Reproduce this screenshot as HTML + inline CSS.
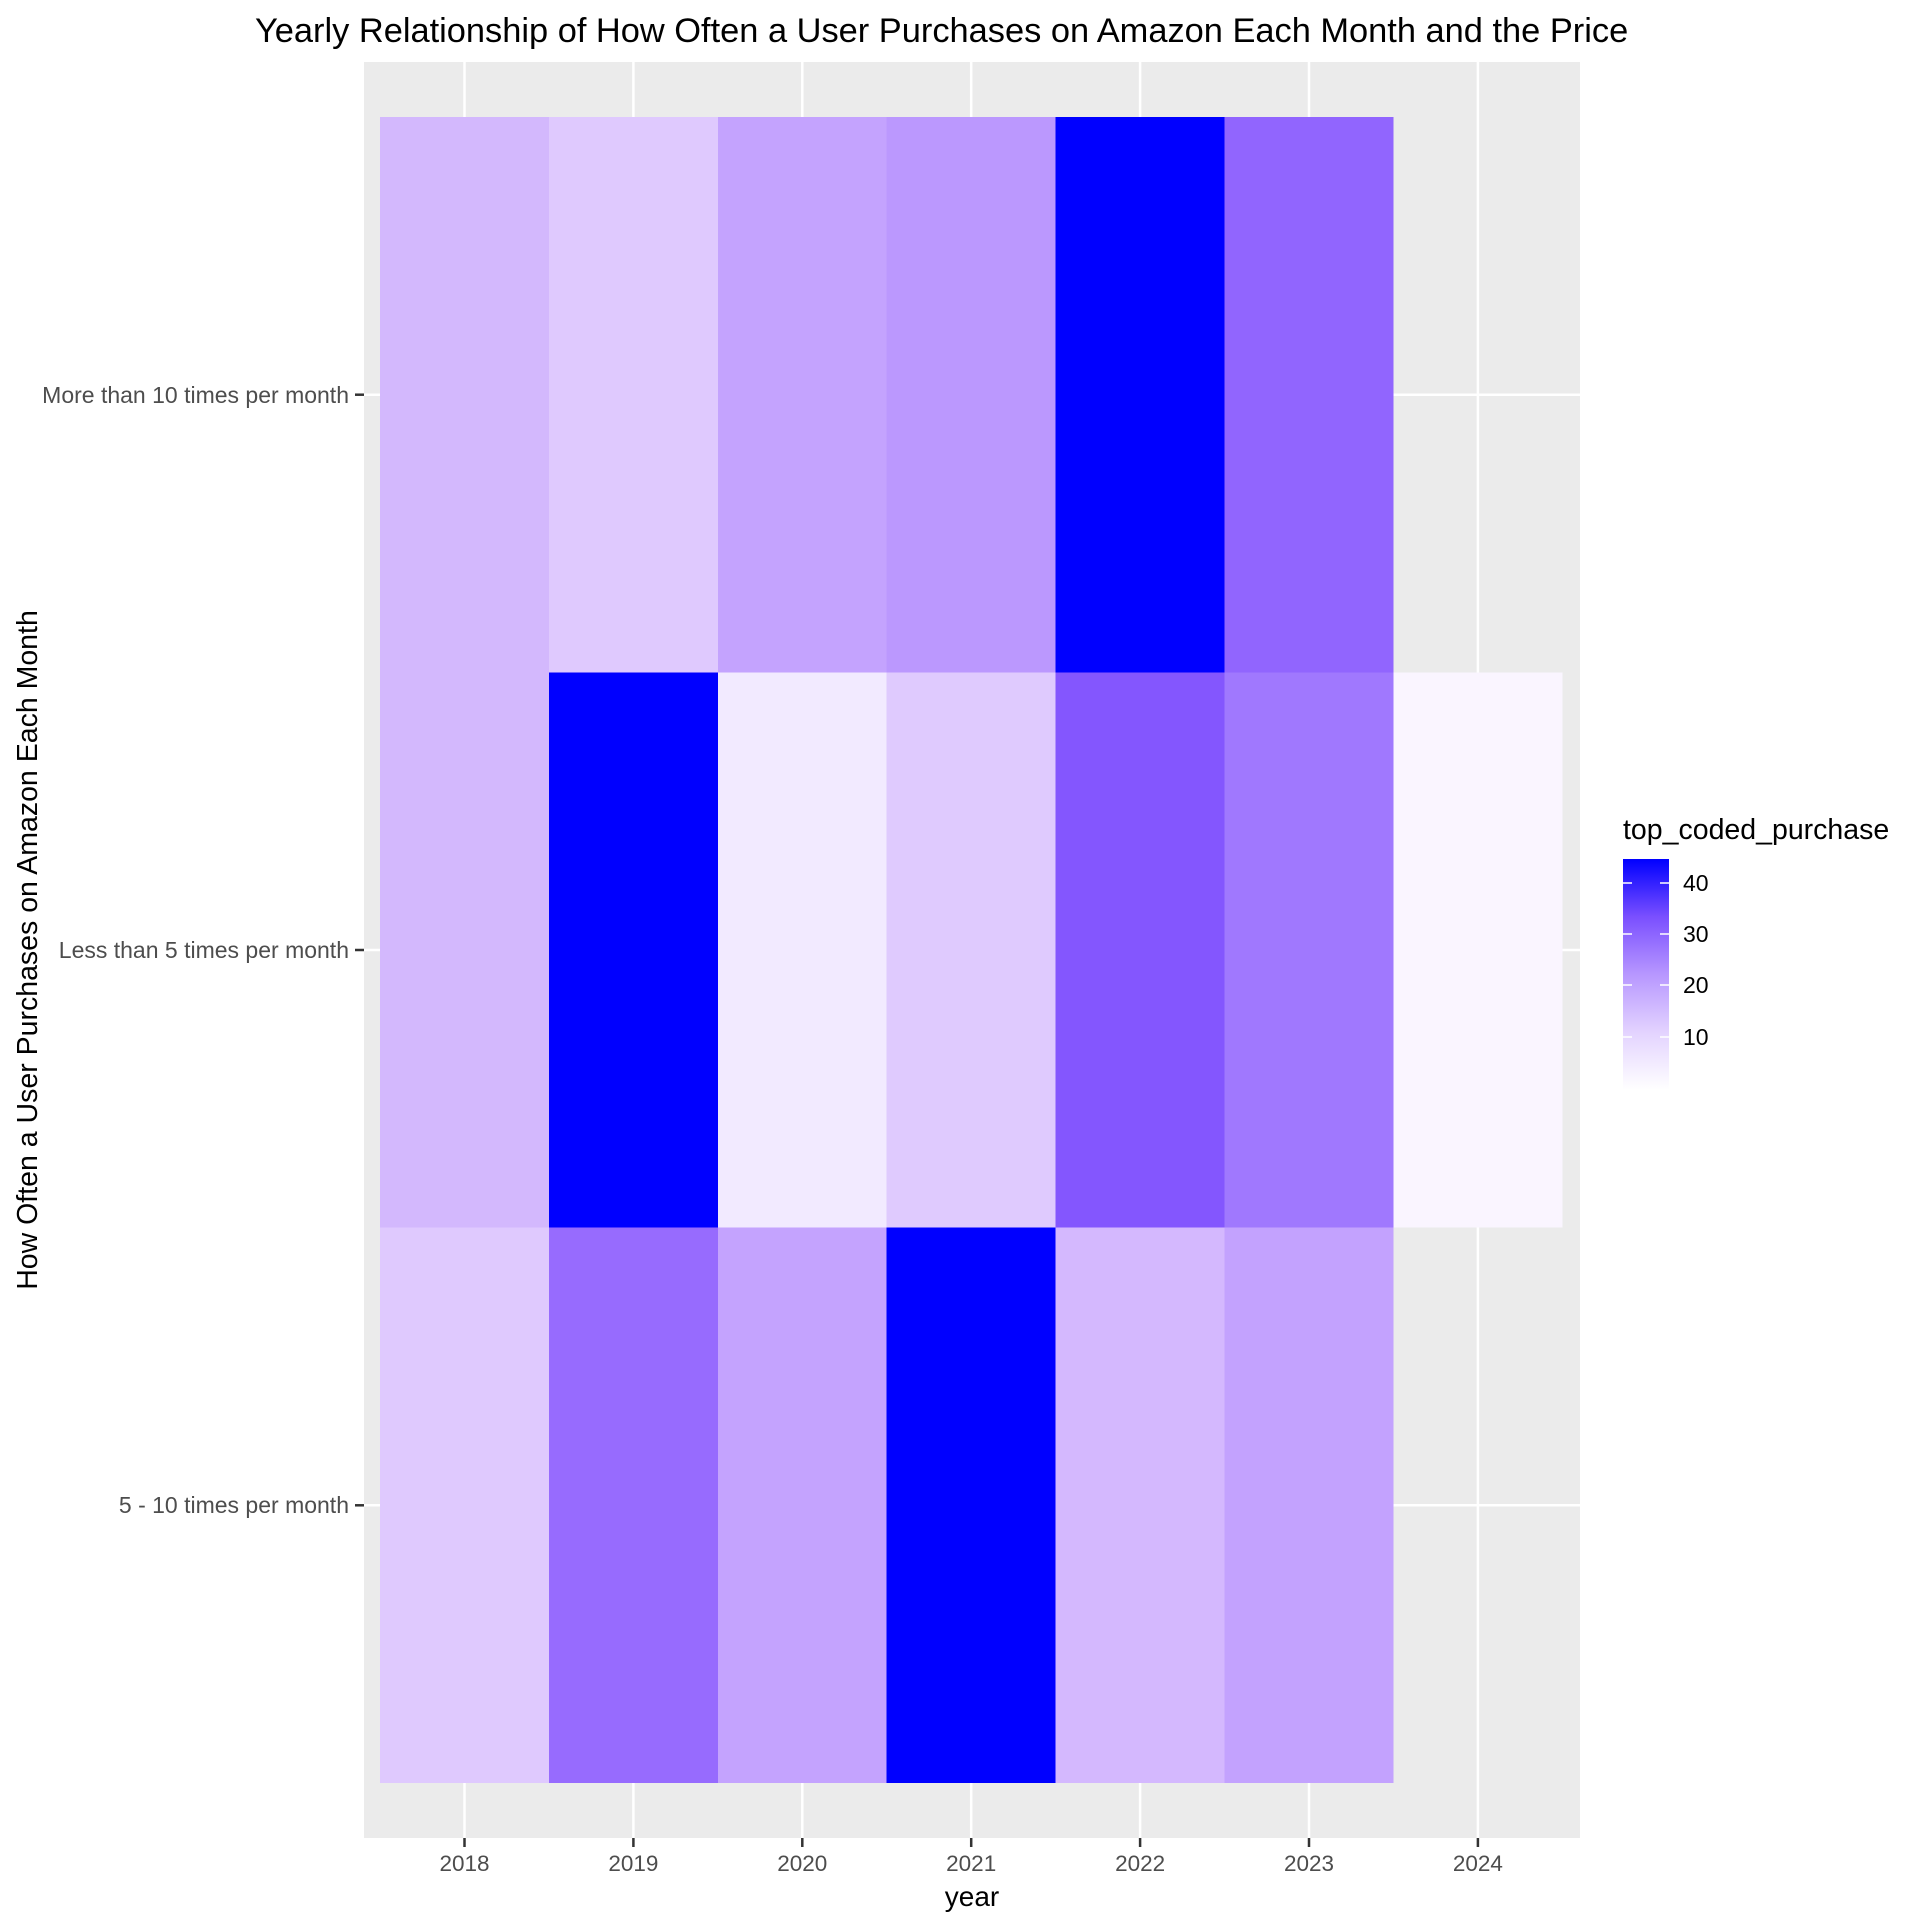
<!DOCTYPE html>
<html><head><meta charset="utf-8"><style>html,body{margin:0;padding:0;background:#fff}</style></head>
<body>
<svg width="1920" height="1920" viewBox="0 0 1920 1920" xmlns="http://www.w3.org/2000/svg" font-family="Liberation Sans, Arial, sans-serif">
<defs>
<linearGradient id="lg" x1="0" y1="1" x2="0" y2="0">
<stop offset="0" stop-color="#ffffff"/>
<stop offset="0.25" stop-color="#e3d3ff"/>
<stop offset="0.5" stop-color="#b797ff"/>
<stop offset="0.75" stop-color="#7a4fff"/>
<stop offset="1" stop-color="#0000ff"/>
</linearGradient>
</defs>
<text x="255" y="42" font-size="34.4" fill="#000">Yearly Relationship of How Often a User Purchases on Amazon Each Month and the Price</text>
<rect x="364" y="62" width="1216" height="1776" fill="#ebebeb"/>
<g stroke="#fff" stroke-width="2.5">
<line x1="464.5" y1="62" x2="464.5" y2="1838"/><line x1="633.4" y1="62" x2="633.4" y2="1838"/>
<line x1="802.3" y1="62" x2="802.3" y2="1838"/><line x1="971.2" y1="62" x2="971.2" y2="1838"/>
<line x1="1140.1" y1="62" x2="1140.1" y2="1838"/><line x1="1309" y1="62" x2="1309" y2="1838"/>
<line x1="1477.9" y1="62" x2="1477.9" y2="1838"/>
<line x1="364" y1="394.7" x2="1580" y2="394.7"/><line x1="364" y1="950" x2="1580" y2="950"/><line x1="364" y1="1505.3" x2="1580" y2="1505.3"/>
</g>
<g shape-rendering="crispEdges">
<rect x="380" y="117" width="169" height="555.3" fill="#d3b8fd"/>
<rect x="548.9" y="117" width="169" height="555.3" fill="#dfc9fe"/>
<rect x="717.8" y="117" width="169" height="555.3" fill="#c4a3fe"/>
<rect x="886.7" y="117" width="169" height="555.3" fill="#bb98fe"/>
<rect x="1055.6" y="117" width="169" height="555.3" fill="#0000ff"/>
<rect x="1224.5" y="117" width="169" height="555.3" fill="#9165fe"/>
<rect x="380" y="672.3" width="169" height="555.3" fill="#d3b8fd"/>
<rect x="548.9" y="672.3" width="169" height="555.3" fill="#0000ff"/>
<rect x="717.8" y="672.3" width="169" height="555.3" fill="#f2eaff"/>
<rect x="886.7" y="672.3" width="169" height="555.3" fill="#dfcafe"/>
<rect x="1055.6" y="672.3" width="169" height="555.3" fill="#8456fe"/>
<rect x="1224.5" y="672.3" width="169" height="555.3" fill="#a078fe"/>
<rect x="1393.4" y="672.3" width="168.9" height="555.3" fill="#faf5ff"/>
<rect x="380" y="1227.6" width="169" height="555.4" fill="#dfc9fe"/>
<rect x="548.9" y="1227.6" width="169" height="555.4" fill="#976bfe"/>
<rect x="717.8" y="1227.6" width="169" height="555.4" fill="#c4a3fe"/>
<rect x="886.7" y="1227.6" width="169" height="555.4" fill="#0000ff"/>
<rect x="1055.6" y="1227.6" width="169" height="555.4" fill="#d4b8fe"/>
<rect x="1224.5" y="1227.6" width="168.9" height="555.4" fill="#c3a2fe"/>
</g>
<g stroke="#333" stroke-width="2.5">
<line x1="355" y1="394.7" x2="364" y2="394.7"/><line x1="355" y1="950" x2="364" y2="950"/><line x1="355" y1="1505.3" x2="364" y2="1505.3"/>
<line x1="464.5" y1="1838" x2="464.5" y2="1847"/><line x1="633.4" y1="1838" x2="633.4" y2="1847"/><line x1="802.3" y1="1838" x2="802.3" y2="1847"/>
<line x1="971.2" y1="1838" x2="971.2" y2="1847"/><line x1="1140.1" y1="1838" x2="1140.1" y2="1847"/><line x1="1309" y1="1838" x2="1309" y2="1847"/>
<line x1="1477.9" y1="1838" x2="1477.9" y2="1847"/>
</g>
<g font-size="23" fill="#4d4d4d" text-anchor="end">
<text x="349" y="403">More than 10 times per month</text>
<text x="349" y="958">Less than 5 times per month</text>
<text x="349" y="1513">5 - 10 times per month</text>
</g>
<g font-size="22.5" fill="#4d4d4d" text-anchor="middle">
<text x="464.5" y="1871">2018</text><text x="633.4" y="1871">2019</text><text x="802.3" y="1871">2020</text>
<text x="971.2" y="1871">2021</text><text x="1140.1" y="1871">2022</text><text x="1309" y="1871">2023</text><text x="1477.9" y="1871">2024</text>
</g>
<text x="972" y="1906" font-size="28" text-anchor="middle" fill="#000">year</text>
<text transform="translate(37,950) rotate(-90)" font-size="28.5" text-anchor="middle" fill="#000">How Often a User Purchases on Amazon Each Month</text>
<text x="1623" y="839" font-size="28.5" fill="#000">top_coded_purchase</text>
<rect x="1623" y="859" width="46" height="231" fill="url(#lg)"/>
<g stroke="#fff" stroke-width="1.5">
<line x1="1623" y1="883" x2="1632" y2="883"/><line x1="1660" y1="883" x2="1669" y2="883"/>
<line x1="1623" y1="934" x2="1632" y2="934"/><line x1="1660" y1="934" x2="1669" y2="934"/>
<line x1="1623" y1="985" x2="1632" y2="985"/><line x1="1660" y1="985" x2="1669" y2="985"/>
<line x1="1623" y1="1037" x2="1632" y2="1037"/><line x1="1660" y1="1037" x2="1669" y2="1037"/>
</g>
<g font-size="23" fill="#000">
<text x="1683" y="891">40</text><text x="1683" y="942">30</text><text x="1683" y="993">20</text><text x="1683" y="1045">10</text>
</g>
</svg>
</body></html>
